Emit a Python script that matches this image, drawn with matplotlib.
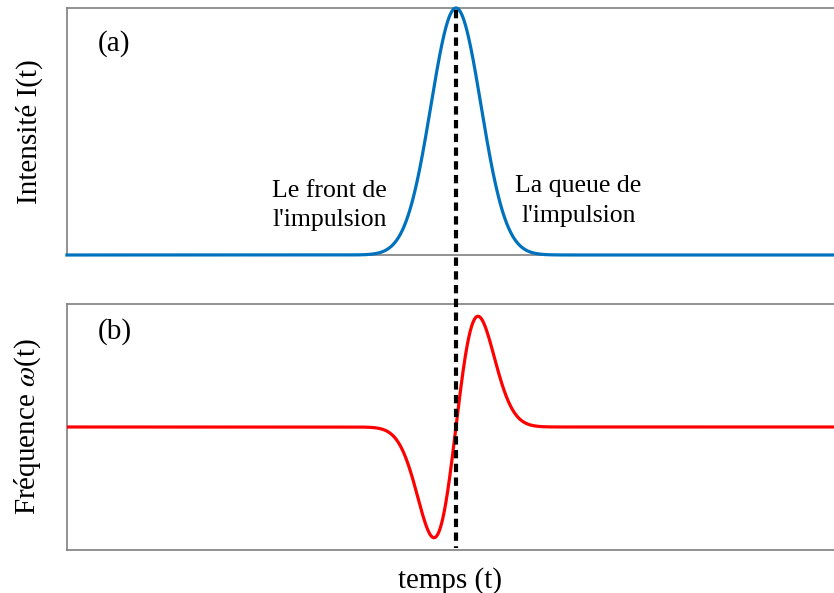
import numpy as np
import matplotlib.pyplot as plt
from matplotlib.lines import Line2D

plt.rcParams['font.family'] = ['Liberation Serif', 'DejaVu Serif']
plt.rcParams['mathtext.fontset'] = 'stix'

# pulse model (time in units of the intensity width)
t_start, t_end = -15.56, 15.12
pulse_center = 0.0
intensity_width = 1.0
intensity_peak = 1.0
chirp_width = 0.88
chirp_peak = 0.9

t = np.linspace(t_start, t_end, 3000)
intensity = intensity_peak * np.exp(-(t - pulse_center)**2 / (2 * intensity_width**2))
chirp = chirp_peak * np.sqrt(np.e) * (t - pulse_center) / chirp_width \
    * np.exp(-(t - pulse_center)**2 / (2 * chirp_width**2))

fig = plt.figure(figsize=(8.34, 5.93), dpi=100)
ax1 = fig.add_axes([0.0803, 0.570, 0.9197, 0.4165])
ax2 = fig.add_axes([0.0803, 0.0725, 0.9197, 0.4149])

spine_col = '#7f7f7f'
for ax in (ax1, ax2):
    ax.set_xticks([])
    ax.set_yticks([])
    ax.set_xlim(t_start, t_end)
    for s in ax.spines.values():
        s.set_color(spine_col)
        s.set_linewidth(1.2)
    ax.spines['right'].set_visible(False)

ax1.plot(t, intensity, color='#0072BD', lw=2.3, clip_on=False, zorder=3)
ax1.set_ylim(0, 1.0)
ax1.set_ylabel('Intensité I(t)', fontsize=21, labelpad=17)
ax1.text(0.04, 0.855, '(a)', transform=ax1.transAxes, fontsize=21, va='center')
ax1.text(-5.05, 0.20, "Le front de\nl'impulsion", ha='center', va='center',
         fontsize=18.5, linespacing=1.45)
ax1.text(4.9, 0.218, "La queue de\nl'impulsion", ha='center', va='center',
         fontsize=18.5, linespacing=1.45)

ax2.plot(t, chirp, color='#FF0000', lw=2.3, zorder=3)
ax2.set_ylim(-1, 1)
ax2.set_ylabel(r'Fréquence $\omega$(t)', fontsize=21, labelpad=17)
ax2.set_xlabel('temps (t)', fontsize=21, labelpad=12)
ax2.text(0.04, 0.886, '(b)', transform=ax2.transAxes, fontsize=21, va='center')

# vertical marker through the pulse centre, across both panels
to_fig = fig.transFigure.inverted()
x0, y_top = to_fig.transform(ax1.transData.transform((pulse_center, 0.99)))
_, y_bot = to_fig.transform(ax2.transData.transform((pulse_center, -0.98)))
fig.add_artist(Line2D([x0, x0], [y_top, y_bot], transform=fig.transFigure,
                      color='black', lw=3, linestyle=(0, (2.0, 1.3)), zorder=5))

fig.savefig('out.png', dpi=100)
